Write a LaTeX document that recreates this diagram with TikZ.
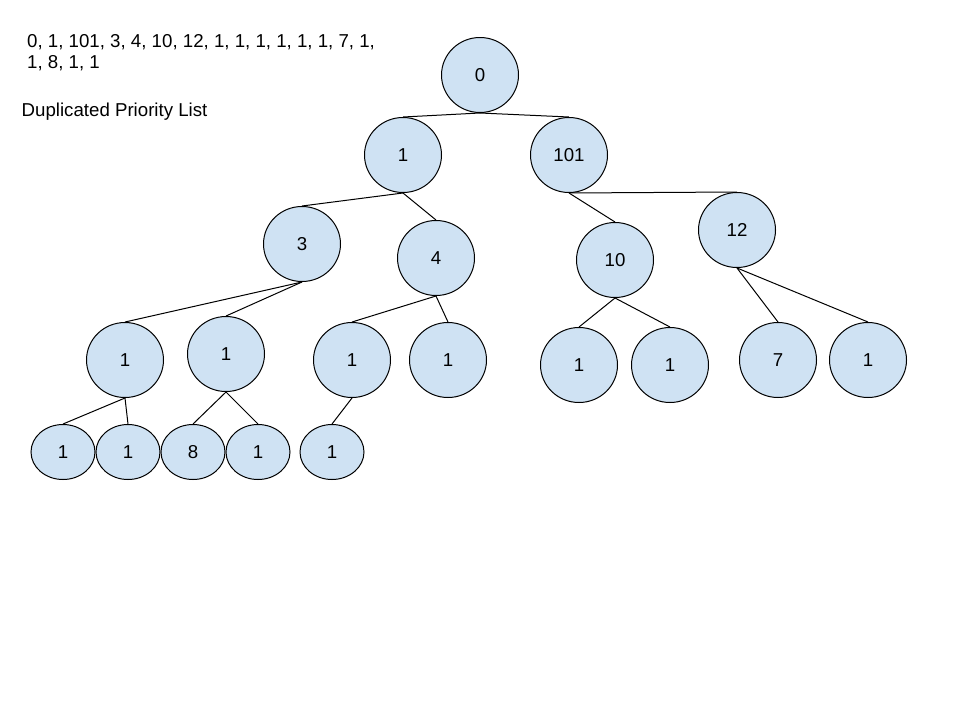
\documentclass[tikz,border=0pt]{standalone}
\usepackage{fontspec}
\setmainfont{Liberation Sans}
\usetikzlibrary{shapes.geometric}
\definecolor{nodeblue}{RGB}{207,226,243}

\begin{document}
\begin{tikzpicture}[x=1pt,y=-1pt,
	every node/.style={font=\fontsize{18.67}{21}\selectfont},
	big/.style={ellipse,draw,line width=1pt,fill=nodeblue,inner sep=0pt,minimum width=77pt,minimum height=75pt},
	small/.style={ellipse,draw,line width=1pt,fill=nodeblue,inner sep=0pt,minimum width=64pt,minimum height=55pt},
	edge/.style={line width=1pt}]
	\useasboundingbox (0,0) rectangle (960,720);

	\node[anchor=north west,inner sep=0pt,align=left] (order) at (27,34) {0, 1, 101, 3, 4, 10, 12, 1, 1, 1, 1, 1, 1, 7, 1,\\1, 8, 1, 1};
	\node[anchor=base west,inner sep=0pt] (title) at (21.5,116.5) {Duplicated Priority List};

	\node[big] (n0) at (480,75) {0};
	\node[big] (n1) at (403,155) {1};
	\node[big] (n101) at (569,155) {101};
	\node[big] (n3) at (302,244) {3};
	\node[big] (n4) at (436,258) {4};
	\node[big] (n10) at (615,260) {10};
	\node[big] (n12) at (737,230) {12};
	\node[big] (n1a) at (125,360) {1};
	\node[big] (n1b) at (226,354) {1};
	\node[big] (n1c) at (352,360) {1};
	\node[big] (n1d) at (448,360) {1};
	\node[big] (n1e) at (579,365) {1};
	\node[big] (n1f) at (670,365) {1};
	\node[big] (n7) at (778,360) {7};
	\node[big] (n1g) at (868,360) {1};
	\node[small] (n1h) at (63,452) {1};
	\node[small] (n1i) at (128,452) {1};
	\node[small] (n8) at (193,452) {8};
	\node[small] (n1j) at (258,452) {1};
	\node[small] (n1k) at (332,452) {1};

	\draw[edge] (n0.south) -- (n1.north);
	\draw[edge] (n0.south) -- (n101.north);
	\draw[edge] (n1.south) -- (n3.north);
	\draw[edge] (n1.south) -- (n4.north);
	\draw[edge] (n101.south) -- (n10.north);
	\draw[edge] (n101.south) -- (n12.north);
	\draw[edge] (n3.south) -- (n1a.north);
	\draw[edge] (n3.south) -- (n1b.north);
	\draw[edge] (n4.south) -- (n1c.north);
	\draw[edge] (n4.south) -- (n1d.north);
	\draw[edge] (n10.south) -- (n1e.north);
	\draw[edge] (n10.south) -- (n1f.north);
	\draw[edge] (n12.south) -- (n7.north);
	\draw[edge] (n12.south) -- (n1g.north);
	\draw[edge] (n1a.south) -- (n1h.north);
	\draw[edge] (n1a.south) -- (n1i.north);
	\draw[edge] (n1b.south) -- (n8.north);
	\draw[edge] (n1b.south) -- (n1j.north);
	\draw[edge] (n1c.south) -- (n1k.north);
\end{tikzpicture}
\end{document}
